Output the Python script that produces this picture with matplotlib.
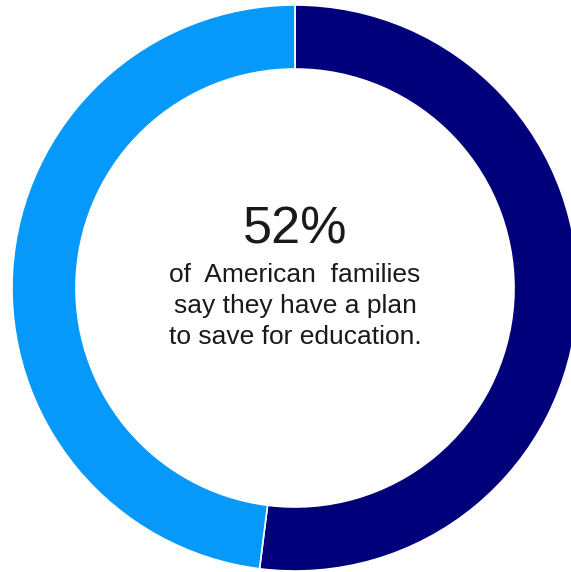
import matplotlib
matplotlib.use("Agg")
import matplotlib.pyplot as plt

labels = ["Have a plan", "No plan"]
values = [52, 48]
colors = ["#00007A", "#0699FA"]
headline = "52%"
body_lines = ["of  American  families", "say they have a plan", "to save for education."]

W, H = 571, 572
fig = plt.figure(figsize=(W / 100, H / 100), dpi=100)
ax = fig.add_axes([0, 0, 1, 1])

cx, cy = 295, H - 288
R = 283
ring = 64
ax.pie(values, colors=colors, startangle=90, counterclock=False,
       center=(cx, cy), radius=R,
       wedgeprops=dict(width=ring, edgecolor="white", linewidth=1.2))
ax.set_xlim(0, W)
ax.set_ylim(0, H)
ax.set_aspect("equal")
ax.axis("off")

font = "Liberation Sans"
ax.text(cx, H - 243, headline, ha="center", va="baseline",
        fontsize=37.5, family=font, color="#1a1a1a")
baselines = [281.5, 313, 344.5]
for line, b in zip(body_lines, baselines):
    ax.text(cx, H - b, line, ha="center", va="baseline",
            fontsize=19, family=font, color="#1a1a1a")

fig.savefig("out.png", dpi=100)
